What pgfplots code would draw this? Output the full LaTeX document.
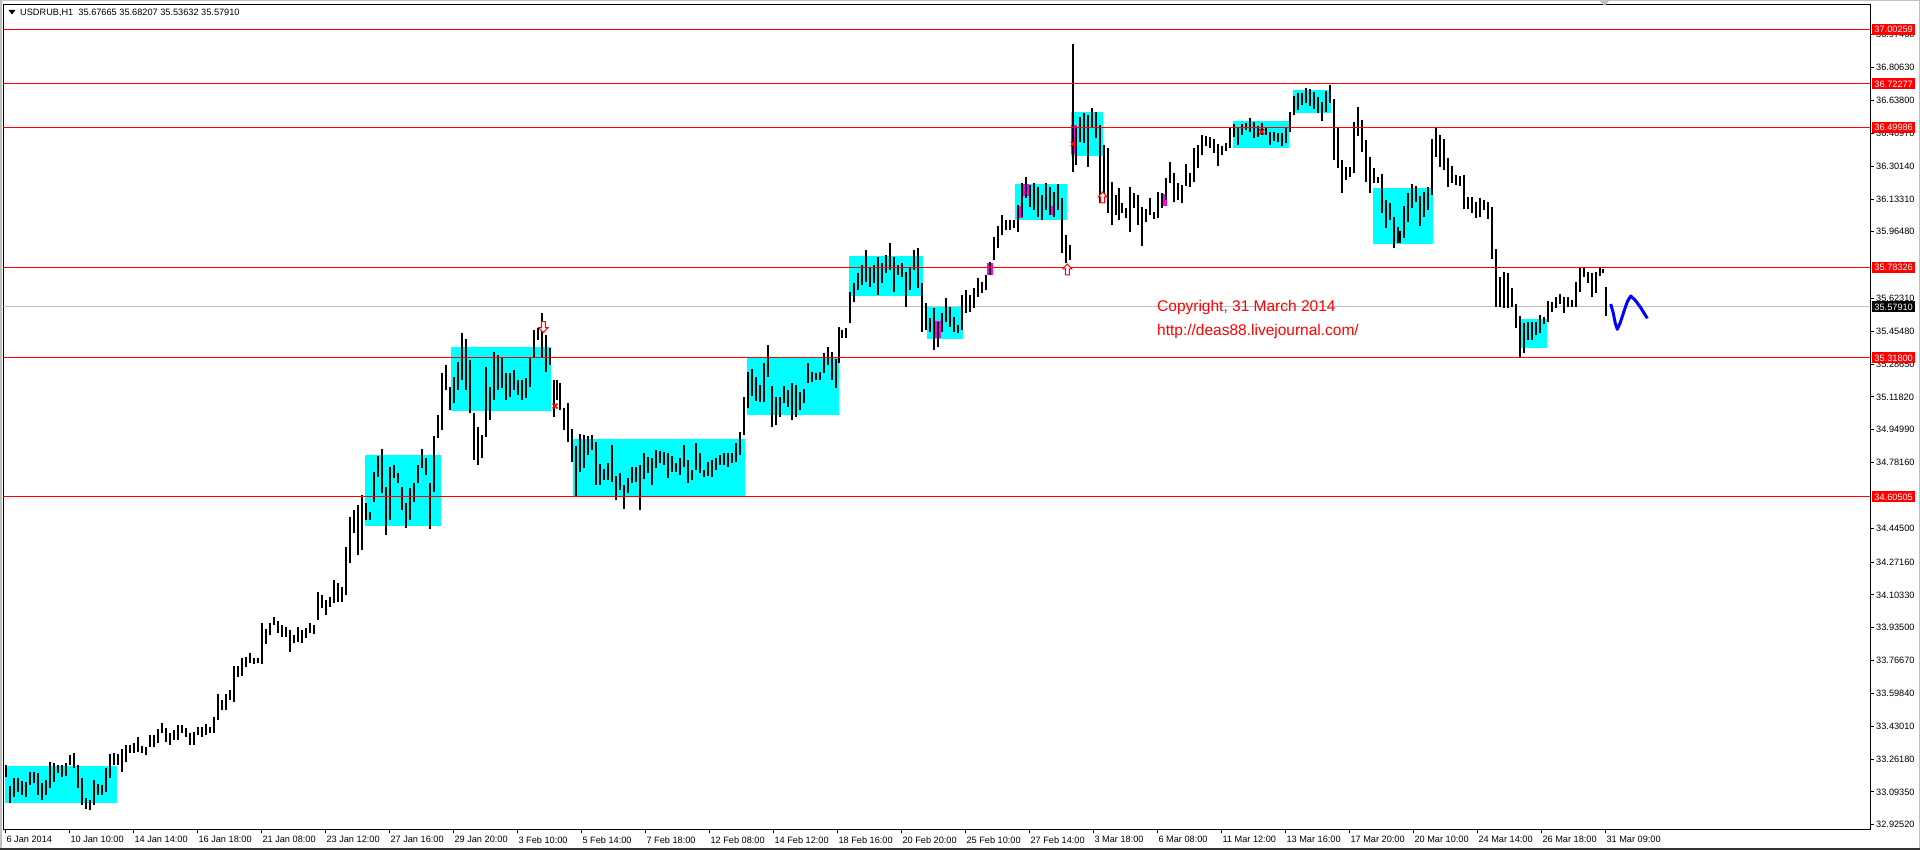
\documentclass[border=0pt]{standalone}
\usepackage{pgfplots}
\usepackage{pgfplotstable}
\pgfplotsset{compat=1.18}
\usepackage{fontspec}
\setmainfont{Liberation Sans}
\definecolor{mtgray}{RGB}{192,192,192}
\definecolor{mtcyan}{RGB}{0,255,255}
\definecolor{mtmagenta}{RGB}{255,0,255}
\definecolor{mtblue}{RGB}{0,0,255}
\definecolor{mtred}{RGB}{255,0,0}
\newcommand{\zone}[5]{\addplot[fill=#1, draw=none, forget plot] coordinates {(#2,#4) (#3,#4) (#3,#5) (#2,#5)};}
\newcommand{\level}[1]{\addplot[mtred, line width=1pt, forget plot] coordinates {(3.3,#1) (1870,#1)};}
\pgfdeclareplotmark{uparr}{%
  \pgfpathmoveto{\pgfpoint{0pt}{6pt}}%
  \pgfpathlineto{\pgfpoint{4.5pt}{1pt}}%
  \pgfpathlineto{\pgfpoint{2pt}{1pt}}%
  \pgfpathlineto{\pgfpoint{2pt}{-5pt}}%
  \pgfpathlineto{\pgfpoint{-2pt}{-5pt}}%
  \pgfpathlineto{\pgfpoint{-2pt}{1pt}}%
  \pgfpathlineto{\pgfpoint{-4.5pt}{1pt}}%
  \pgfpathclose\pgfusepath{fill,stroke}}
\pgfdeclareplotmark{dnarr}{%
  \pgfpathmoveto{\pgfpoint{0pt}{-6pt}}%
  \pgfpathlineto{\pgfpoint{4.5pt}{-1pt}}%
  \pgfpathlineto{\pgfpoint{2pt}{-1pt}}%
  \pgfpathlineto{\pgfpoint{2pt}{5pt}}%
  \pgfpathlineto{\pgfpoint{-2pt}{5pt}}%
  \pgfpathlineto{\pgfpoint{-2pt}{-1pt}}%
  \pgfpathlineto{\pgfpoint{-4.5pt}{-1pt}}%
  \pgfpathclose\pgfusepath{fill,stroke}}

\pgfplotstableread{
x lo hi
6 33.171 33.231
10 33.035 33.124
14 33.069 33.163
18 33.095 33.163
22 33.078 33.151
26 33.069 33.146
30 33.129 33.197
34 33.137 33.197
38 33.078 33.189
42 33.052 33.137
46 33.078 33.154
50 33.112 33.248
54 33.146 33.243
58 33.189 33.231
62 33.171 33.231
66 33.175 33.243
70 33.231 33.283
74 33.214 33.291
78 33.112 33.231
82 33.026 33.163
86 33.004 33.060
90 33.001 33.052
94 33.026 33.154
98 33.078 33.134
102 33.078 33.129
106 33.095 33.214
110 33.163 33.288
114 33.231 33.291
118 33.231 33.288
122 33.197 33.312
126 33.248 33.332
130 33.291 33.334
134 33.295 33.342
138 33.300 33.377
142 33.291 33.329
146 33.283 33.325
150 33.325 33.385
154 33.325 33.385
158 33.342 33.414
162 33.394 33.448
166 33.351 33.419
170 33.334 33.394
174 33.359 33.411
178 33.359 33.436
182 33.394 33.436
186 33.377 33.419
190 33.334 33.397
194 33.334 33.402
198 33.385 33.428
202 33.377 33.428
206 33.385 33.441
210 33.394 33.428
214 33.394 33.479
218 33.462 33.595
222 33.513 33.565
226 33.513 33.595
230 33.565 33.616
234 33.556 33.739
238 33.684 33.739
242 33.688 33.778
246 33.735 33.787
250 33.752 33.807
254 33.749 33.778
258 33.752 33.778
262 33.749 33.958
266 33.852 33.927
270 33.898 33.958
274 33.949 33.992
278 33.906 33.971
282 33.889 33.949
286 33.889 33.937
290 33.812 33.923
294 33.855 33.898
298 33.863 33.940
302 33.858 33.923
306 33.881 33.932
310 33.906 33.957
314 33.903 33.949
318 33.975 34.120
322 34.034 34.103
326 34.000 34.077
330 34.043 34.094
334 34.060 34.180
338 34.069 34.163
342 34.069 34.145
346 34.103 34.350
350 34.265 34.504
354 34.419 34.538
358 34.308 34.564
362 34.333 34.615
366 34.487 34.573
370 34.487 34.530
374 34.581 34.735
378 34.709 34.817
382 34.624 34.849
386 34.410 34.658
390 34.487 34.761
394 34.701 34.769
398 34.675 34.726
402 34.538 34.658
406 34.444 34.573
410 34.487 34.650
414 34.581 34.679
418 34.675 34.769
422 34.752 34.849
426 34.718 34.803
430 34.439 34.679
434 34.632 34.918
438 34.906 35.025
442 34.949 35.239
446 35.154 35.282
450 35.051 35.171
454 35.085 35.222
458 35.154 35.299
462 35.205 35.444
466 35.154 35.413
470 35.034 35.307
474 34.795 35.034
478 34.769 34.966
482 34.803 34.923
486 34.914 35.273
490 35.000 35.171
494 35.102 35.350
498 35.154 35.333
502 35.162 35.324
506 35.102 35.239
510 35.119 35.239
514 35.154 35.256
518 35.128 35.205
522 35.102 35.205
526 35.111 35.213
530 35.171 35.324
534 35.324 35.461
538 35.410 35.470
542 35.324 35.547
546 35.248 35.436
550 35.282 35.367
554 35.017 35.205
557 35.102 35.205
560 35.051 35.188
564 34.949 35.060
568 34.889 35.085
572 34.786 34.952
576 34.610 34.867
580 34.735 34.928
584 34.752 34.923
588 34.820 34.918
592 34.846 34.923
596 34.667 34.889
600 34.667 34.774
604 34.692 34.747
608 34.692 34.778
612 34.684 34.872
616 34.590 34.713
620 34.641 34.730
624 34.542 34.667
628 34.627 34.701
632 34.675 34.757
636 34.684 34.761
640 34.539 34.769
644 34.696 34.832
648 34.726 34.812
652 34.667 34.803
656 34.752 34.846
660 34.778 34.843
664 34.769 34.838
668 34.701 34.829
672 34.735 34.815
676 34.735 34.778
680 34.718 34.803
684 34.761 34.872
688 34.675 34.795
692 34.692 34.744
696 34.744 34.880
700 34.726 34.829
704 34.709 34.744
708 34.713 34.786
712 34.709 34.795
716 34.744 34.803
720 34.769 34.820
724 34.769 34.832
728 34.761 34.829
732 34.781 34.832
736 34.786 34.880
740 34.820 34.940
744 34.923 35.120
748 35.060 35.248
752 35.123 35.260
756 35.099 35.219
760 35.094 35.179
764 35.094 35.290
768 35.219 35.384
772 34.962 35.174
776 34.974 35.120
780 35.017 35.120
784 35.085 35.174
788 35.065 35.154
792 35.000 35.188
796 35.017 35.179
800 35.051 35.145
804 35.085 35.157
808 35.188 35.290
812 35.196 35.248
816 35.205 35.239
820 35.205 35.248
824 35.239 35.345
828 35.282 35.376
832 35.205 35.350
836 35.162 35.311
839 35.290 35.478
842 35.419 35.461
846 35.419 35.470
850 35.495 35.658
854 35.606 35.700
858 35.666 35.752
862 35.692 35.794
866 35.709 35.871
870 35.683 35.786
874 35.700 35.794
878 35.641 35.837
882 35.700 35.803
886 35.752 35.846
890 35.769 35.906
894 35.658 35.837
898 35.743 35.794
902 35.735 35.803
906 35.581 35.760
910 35.666 35.786
914 35.769 35.871
918 35.675 35.880
922 35.453 35.700
926 35.461 35.598
930 35.453 35.521
934 35.359 35.572
938 35.376 35.504
942 35.453 35.547
946 35.504 35.624
950 35.478 35.581
954 35.453 35.530
958 35.448 35.487
962 35.461 35.641
966 35.547 35.666
970 35.555 35.641
974 35.572 35.675
978 35.632 35.726
982 35.649 35.709
986 35.666 35.743
990 35.743 35.812
994 35.820 35.940
998 35.880 35.994
1002 35.948 36.051
1006 35.974 36.025
1010 35.974 36.025
1014 35.982 36.025
1018 35.965 36.102
1022 36.042 36.213
1026 36.136 36.247
1030 36.093 36.205
1034 36.076 36.213
1038 36.042 36.196
1042 36.025 36.153
1046 36.076 36.213
1050 36.051 36.196
1054 36.042 36.170
1058 36.076 36.210
1062 35.854 36.136
1066 35.803 35.948
1070 35.820 35.897
1073 36.273 36.927
1076 36.307 36.504
1080 36.427 36.555
1084 36.418 36.572
1088 36.299 36.563
1092 36.495 36.598
1096 36.444 36.580
1100 36.111 36.512
1104 36.111 36.410
1108 36.059 36.393
1112 35.999 36.222
1116 36.051 36.153
1119 36.025 36.187
1122 36.059 36.111
1126 36.034 36.085
1130 35.965 36.196
1134 36.085 36.162
1138 35.999 36.153
1142 35.892 36.093
1146 36.017 36.080
1150 36.051 36.136
1154 36.029 36.068
1158 36.034 36.170
1162 36.085 36.162
1166 36.128 36.239
1170 36.213 36.324
1174 36.119 36.264
1178 36.128 36.213
1182 36.111 36.205
1186 36.199 36.312
1190 36.196 36.264
1194 36.222 36.393
1198 36.290 36.410
1202 36.358 36.461
1206 36.404 36.456
1210 36.393 36.452
1214 36.367 36.439
1218 36.302 36.415
1222 36.358 36.404
1226 36.381 36.418
1230 36.393 36.504
1234 36.449 36.517
1238 36.410 36.495
1242 36.461 36.517
1246 36.487 36.521
1250 36.478 36.546
1254 36.444 36.529
1258 36.449 36.507
1262 36.461 36.524
1266 36.461 36.504
1270 36.410 36.478
1274 36.432 36.478
1278 36.427 36.469
1282 36.404 36.473
1286 36.422 36.504
1290 36.478 36.580
1294 36.563 36.661
1298 36.589 36.674
1302 36.615 36.678
1306 36.623 36.700
1310 36.610 36.695
1314 36.592 36.683
1318 36.572 36.657
1322 36.534 36.632
1326 36.580 36.688
1330 36.627 36.717
1334 36.333 36.644
1338 36.290 36.495
1342 36.165 36.333
1346 36.230 36.295
1350 36.247 36.299
1354 36.264 36.529
1358 36.456 36.606
1362 36.375 36.538
1366 36.222 36.435
1370 36.165 36.350
1374 36.213 36.290
1378 36.213 36.247
1382 36.059 36.261
1386 35.982 36.128
1390 36.025 36.111
1394 35.880 36.042
1398 35.906 35.991
1400 35.909 35.971
1404 35.931 36.097
1408 36.017 36.165
1412 36.085 36.210
1416 36.119 36.199
1420 35.994 36.148
1424 36.039 36.170
1428 36.076 36.193
1432 36.153 36.439
1436 36.346 36.495
1440 36.299 36.461
1444 36.282 36.439
1448 36.196 36.341
1452 36.217 36.302
1456 36.205 36.256
1460 36.199 36.251
1464 36.080 36.256
1468 36.080 36.145
1472 36.059 36.141
1476 36.034 36.119
1480 36.042 36.136
1484 36.076 36.128
1488 36.029 36.119
1492 35.824 36.094
1496 35.581 35.875
1500 35.581 35.735
1504 35.572 35.760
1508 35.572 35.755
1512 35.581 35.675
1516 35.470 35.595
1520 35.325 35.533
1524 35.342 35.499
1528 35.410 35.504
1532 35.410 35.504
1536 35.436 35.504
1540 35.444 35.538
1544 35.492 35.530
1548 35.504 35.612
1552 35.555 35.607
1556 35.572 35.629
1560 35.595 35.646
1564 35.547 35.632
1568 35.577 35.632
1572 35.577 35.615
1576 35.577 35.709
1580 35.658 35.777
1584 35.735 35.777
1588 35.704 35.760
1592 35.629 35.755
1596 35.653 35.760
1600 35.738 35.783
1603 35.752 35.772
1606 35.533 35.680
}\bars

\begin{document}
\begin{tikzpicture}[x=1pt,y=1pt]
\useasboundingbox (0,0) rectangle (1920,850);
\fill[white] (0,0) rectangle (1920,850);
\begin{axis}[
  at={(3.3pt,20.7pt)}, anchor=south west,
  scale only axis, width=1866.7pt, height=824.6pt,
  xmin=3.3, xmax=1870, ymin=32.9016, ymax=37.1288,
  axis line style={line width=1pt, black},
  tick style={black, line width=0.8pt},
  tick align=outside,
  major tick length=4pt,
  xtick pos=bottom, ytick pos=right,
  yticklabel pos=right,
  xtick={5.8,69.8,133.8,197.8,261.8,325.8,389.8,453.8,517.8,581.8,645.8,709.8,773.8,837.8,901.8,965.8,1029.8,1093.8,1157.8,1221.8,1285.8,1349.8,1413.8,1477.8,1541.8,1605.8},
  xticklabels={6 Jan 2014,10 Jan 10:00,14 Jan 14:00,16 Jan 18:00,21 Jan 08:00,23 Jan 12:00,27 Jan 16:00,29 Jan 20:00,3 Feb 10:00,5 Feb 14:00,7 Feb 18:00,12 Feb 08:00,14 Feb 12:00,18 Feb 16:00,20 Feb 20:00,25 Feb 10:00,27 Feb 14:00,3 Mar 18:00,6 Mar 08:00,11 Mar 12:00,13 Mar 16:00,17 Mar 20:00,20 Mar 10:00,24 Mar 14:00,26 Mar 18:00,31 Mar 09:00},
  ytick={32.9252,33.0935,33.2618,33.4301,33.5984,33.7667,33.9350,34.1033,34.2716,34.4450,34.7816,34.9499,35.1182,35.2865,35.4548,35.6231,35.9648,36.1331,36.3014,36.4697,36.6380,36.8063,36.9746},
  yticklabels={32.92520,33.09350,33.26180,33.43010,33.59840,33.76670,33.93500,34.10330,34.27160,34.44500,34.78160,34.94990,35.11820,35.28650,35.45480,35.62310,35.96480,36.13310,36.30140,36.46970,36.63800,36.80630,36.97460},
  ticklabel style={font=\fontsize{9.2}{11}\selectfont, inner sep=0pt},
  xticklabel style={anchor=north west, xshift=0.5pt, yshift=-3pt},
  yticklabel style={anchor=west, xshift=2pt},
]
% zones
\zone{mtcyan}{5}{117}{33.035}{33.228}
\zone{mtcyan}{365}{441}{34.458}{34.820}
\zone{mtcyan}{451}{551}{35.048}{35.373}
\zone{mtcyan}{573}{745}{34.604}{34.902}
\zone{mtcyan}{747}{839}{35.025}{35.321}
\zone{mtcyan}{849}{923}{35.637}{35.841}
\zone{mtcyan}{927}{963}{35.415}{35.578}
\zone{mtcyan}{1015}{1067}{36.025}{36.210}
\zone{mtcyan}{1071}{1103}{36.355}{36.580}
\zone{mtcyan}{1233}{1289}{36.396}{36.533}
\zone{mtcyan}{1293}{1331}{36.575}{36.692}
\zone{mtcyan}{1373}{1433}{35.904}{36.191}
\zone{mtcyan}{1519}{1547}{35.371}{35.518}
\zone{mtmagenta}{987}{993}{35.743}{35.806}
\zone{mtmagenta}{935}{941}{35.419}{35.509}
\zone{mtmagenta}{1018}{1023}{36.034}{36.097}
\zone{mtmagenta}{1023}{1029}{36.150}{36.210}
\zone{mtmagenta}{1051}{1055}{36.051}{36.097}
\zone{mtmagenta}{1071}{1077}{36.363}{36.512}
\zone{mtmagenta}{1161}{1167}{36.098}{36.158}
% current price line
\addplot[mtgray, line width=1pt, forget plot] coordinates {(3.3,35.5791) (1870,35.5791)};
% price bars (high-low)
\addplot[draw=none, mark=none, forget plot,
  error bars/.cd, y dir=plus, y explicit, error mark=none,
  error bar style={draw=black, line width=1.4pt}]
  table[x=x, y=lo, y error expr=\thisrow{hi}-\thisrow{lo}] {\bars};
% levels
\level{34.60505}
\level{35.31800}
\level{35.78326}
\level{36.49986}
\level{36.72277}
\level{37.00259}
% forecast zigzag
\addplot[mtblue, line width=3pt, line join=round, forget plot] coordinates {(1610.7,35.5945) (1613.3,35.5467) (1615.3,35.4954) (1617.3,35.4646) (1620,35.4954) (1623.3,35.5467) (1627.3,35.6065) (1630.7,35.6355) (1635,35.6150) (1640,35.5808) (1647.3,35.5210)};
% signal marks
\addplot[only marks, mark=x, mark size=3.5pt, mtred, line width=1.6pt, forget plot] coordinates {(555,35.0716) (1073.3,36.4147) (1261.7,36.4778)};
\addplot[only marks, mark=uparr, mark options={draw=mtred, fill=white, line width=1pt, solid}, forget plot] coordinates {(1067.3,35.7688) (1102.7,36.1379)};
\addplot[only marks, mark=dnarr, mark options={draw=mtred, fill=white, line width=1pt, solid}, forget plot] coordinates {(543.3,35.4781)};
\coordinate (L1) at (axis cs:1870,37.00259);
\coordinate (L2) at (axis cs:1870,36.72277);
\coordinate (L3) at (axis cs:1870,36.49986);
\coordinate (L4) at (axis cs:1870,35.78326);
\coordinate (L5) at (axis cs:1870,35.31800);
\coordinate (L6) at (axis cs:1870,34.60505);
\coordinate (LC) at (axis cs:1870,35.57910);
\end{axis}
% right-hand price labels
\foreach \c/\t in {L1/37.00259, L2/36.72277, L3/36.49986, L4/35.78326, L5/35.31800, L6/34.60505}
  \node[fill=mtred, text=white, anchor=west, inner sep=0pt, minimum width=43.5pt, minimum height=11pt, font=\fontsize{9.2}{11}\selectfont] at ([xshift=1.7pt]\c) {\t};
\node[fill=black, text=white, anchor=west, inner sep=0pt, minimum width=43.5pt, minimum height=11pt, font=\fontsize{9.2}{11}\selectfont] at ([xshift=1.7pt]LC) {35.57910};
% copyright text
\node[anchor=base west, inner sep=0pt, text=mtred, font=\fontsize{15.5}{18}\selectfont] at (1157,538.5) {Copyright, 31 March 2014};
\node[anchor=base west, inner sep=0pt, text=mtred, font=\fontsize{15.5}{18}\selectfont] at (1157,514) {http://deas88.livejournal.com/};
% title
\fill[black] (8.5,840) -- (15.5,840) -- (12,835.5) -- cycle;
\node[anchor=west, inner sep=0pt, font=\fontsize{9.2}{11}\selectfont] at (20,836.7) {USDRUB,H1\ \ 35.67665 35.68207 35.53632 35.57910};
% shift marker and window borders
\fill[mtgray] (1599,850) -- (1610,850) -- (1604.5,844) -- cycle;
\draw[mtgray, line width=1.5pt] (0.75,0) -- (0.75,849.25) -- (1919.25,849.25) -- (1919.25,0);
\draw[black!80, line width=1.5pt] (0,0.75) -- (1920,0.75);
\end{tikzpicture}
\end{document}
